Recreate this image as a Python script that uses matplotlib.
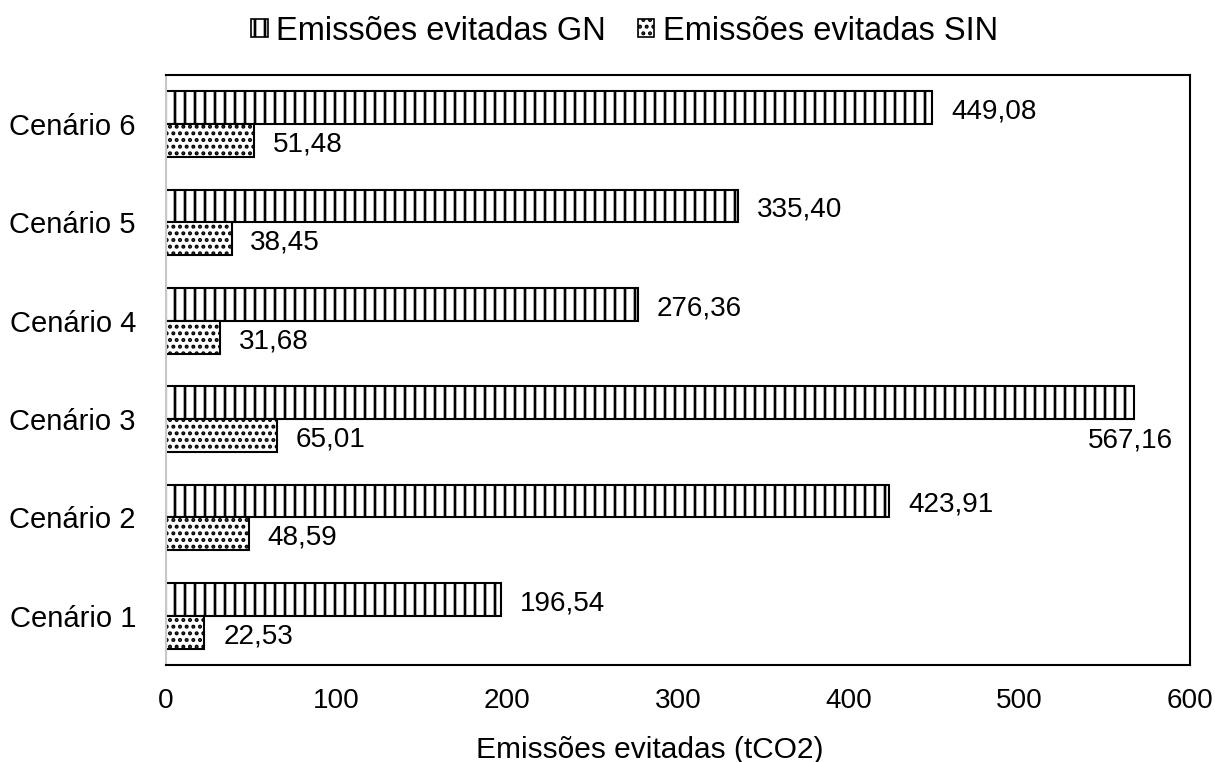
import matplotlib.pyplot as plt
import numpy as np
from matplotlib.patches import Patch

plt.rcParams['font.family'] = ['Liberation Sans', 'DejaVu Sans']
plt.rcParams['hatch.linewidth'] = 1.6

cenarios = ['Cenário 1', 'Cenário 2', 'Cenário 3', 'Cenário 4', 'Cenário 5', 'Cenário 6']
gn = [196.54, 423.91, 567.16, 276.36, 335.40, 449.08]
sin = [22.53, 48.59, 65.01, 31.68, 38.45, 51.48]


def fmt(v):
    """Portuguese decimal comma"""
    return f'{v:.2f}'.replace('.', ',')


# dpi 120 so the hatch spacing comes out close to the original
fig = plt.figure(figsize=(10.125, 6.35), dpi=120)
ax = fig.add_axes([0.1366, 0.1273, 0.8428, 0.7743])

y = np.arange(len(cenarios))
h = 0.335
ax.barh(y + h / 2, gn, height=h, color='white', edgecolor='black', hatch='||', linewidth=1.25)
ax.barh(y - h / 2, sin, height=h, color='white', edgecolor='black', hatch='...', linewidth=1.25)

for i, (g, s) in enumerate(zip(gn, sin)):
    if g > 500:
        ax.text(g - 2, y[i] - h / 2 - 0.05, fmt(g), ha='center', va='center', fontsize=16.7)
    else:
        ax.text(g + 11, y[i] + h / 2 - 0.04, fmt(g), ha='left', va='center', fontsize=16.7)
    ax.text(s + 11, y[i] - h / 2 - 0.04, fmt(s), ha='left', va='center', fontsize=16.7)

ax.set_xlim(0, 600)
ax.set_ylim(-0.5, 5.5)
ax.set_xticks(range(0, 601, 100))
ax.set_yticks(y)
ax.set_yticklabels(cenarios, fontsize=17.5)
ax.tick_params(axis='x', labelsize=16.7, length=0, pad=14)
ax.tick_params(axis='y', length=0, pad=18)
ax.set_xlabel('Emissões evitadas (tCO2)', fontsize=17.9)
ax.xaxis.set_label_coords(0.4727, -0.12)

for side in ['top', 'right', 'bottom']:
    ax.spines[side].set_linewidth(1.25)
ax.spines['left'].set_color('#c8c8c8')
ax.spines['left'].set_linewidth(1.25)

handles = [Patch(facecolor='white', edgecolor='black', hatch='||', label='Emissões evitadas GN'),
           Patch(facecolor='white', edgecolor='black', hatch='...', label='Emissões evitadas SIN')]
fig.legend(handles=handles, loc='upper center', bbox_to_anchor=(0.514, 1.018), ncol=2, frameon=False,
           fontsize=19.6, handlelength=0.5, handleheight=0.5, handletextpad=0.25, columnspacing=1.0)

fig.savefig('out.png', dpi=120)
